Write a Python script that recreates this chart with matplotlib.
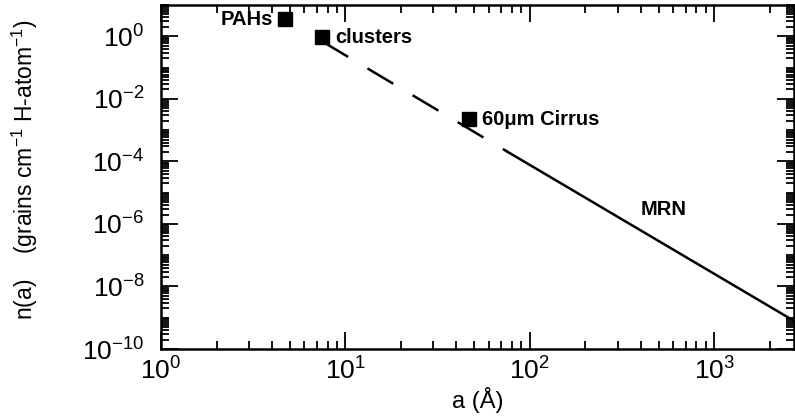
import matplotlib
matplotlib.use('Agg')
import matplotlib.pyplot as plt
from matplotlib.ticker import LogLocator, FixedLocator, NullFormatter

plt.rcParams['font.family'] = ['Liberation Sans', 'DejaVu Sans']
plt.rcParams['mathtext.fontset'] = 'custom'
plt.rcParams['mathtext.rm'] = 'Liberation Sans'
plt.rcParams['mathtext.it'] = 'Liberation Sans'
plt.rcParams['mathtext.default'] = 'regular'
plt.rcParams['axes.unicode_minus'] = False

# size distribution (power law, MRN ~ a^-3.5)
a_dash = [7.5, 76]
n_dash = [0.68, 2.0e-4]
a_solid = [76, 2700]
n_solid = [2.0e-4, 8.0e-10]

# grain populations
pt_names = ["PAHs", "clusters", "60\u03bcm Cirrus"]
pt_a = [4.7, 7.5, 46.6]
pt_n = [3.5, 0.93, 2.2e-3]

fig = plt.figure(figsize=(7.95, 4.19), dpi=100)
ax = fig.add_axes([0.2025, 0.167, 0.796, 0.821])

ax.plot(a_dash, n_dash, color='black', linewidth=1.8, dashes=(12, 9))
ax.plot(a_solid, n_solid, color='black', linewidth=1.8)
ax.plot(pt_a, pt_n, 's', color='black', markersize=10)

ax.text(4.05, 3.5, pt_names[0], ha='right', va='center', fontsize=14.5, fontweight='bold')
ax.text(8.8, 0.93, pt_names[1], ha='left', va='center', fontsize=14.5, fontweight='bold')
ax.text(55, 2.2e-3, pt_names[2], ha='left', va='center', fontsize=14.5, fontweight='bold')
ax.text(530, 3.0e-6, "MRN", ha='center', va='center', fontsize=14.5, fontweight='bold')

ax.set_xscale('log')
ax.set_yscale('log')
ax.set_xlim(1, 2700)
ax.set_ylim(1e-10, 1e1)

ax.yaxis.set_major_locator(FixedLocator([10.0**k for k in range(-10, 1, 2)]))
ax.yaxis.set_minor_locator(LogLocator(base=10, subs=(1, 2, 3, 4, 5, 6, 7, 8, 9), numticks=30))
ax.yaxis.set_minor_formatter(NullFormatter())
ax.xaxis.set_minor_locator(LogLocator(base=10, subs=(2, 3, 4, 5, 6, 7, 8, 9), numticks=30))
ax.xaxis.set_minor_formatter(NullFormatter())

ax.tick_params(which='both', direction='in', top=True, right=True, labelsize=19, width=1.3)
ax.tick_params(which='major', length=12)
ax.tick_params(which='minor', length=6)
ax.tick_params(axis='y', which='major', pad=12)
ax.tick_params(axis='x', which='major', pad=6)

for s in ax.spines.values():
    s.set_linewidth(1.8)

ax.set_xlabel("a (\u00c5)", fontsize=17, labelpad=2)
lab = ax.set_ylabel("n(a)    (grains cm$^{-1}$ H-atom$^{-1}$)", fontsize=16.5, labelpad=30)
lab.set_y(0.52)

fig.savefig('out.png', dpi=100)
